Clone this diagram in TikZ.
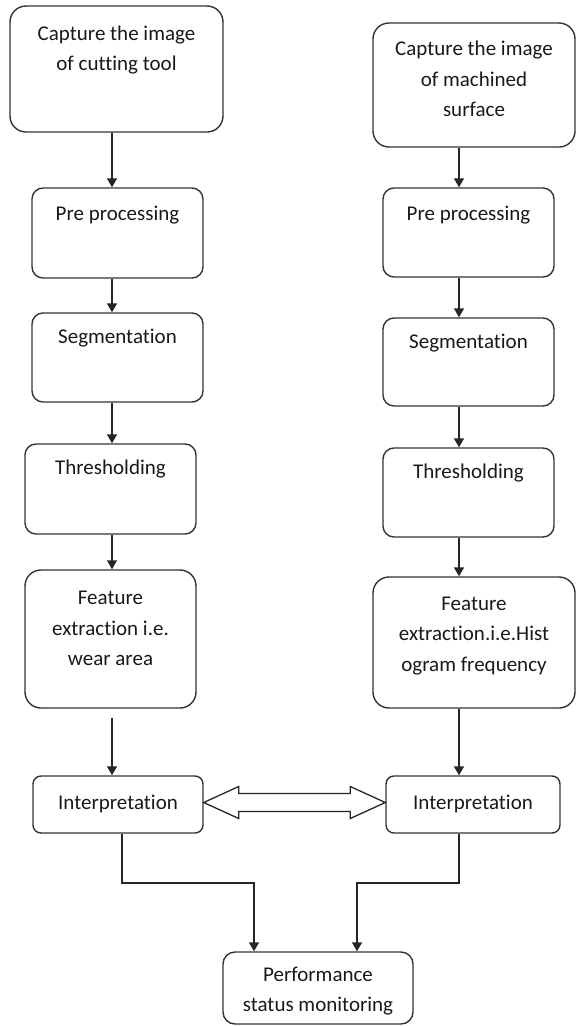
\documentclass[tikz,border=0pt]{standalone}
\usepackage{fontspec}
\setmainfont{Carlito}[Ligatures={NoCommon,NoContextual},Contextuals={NoAlternate}]
\usetikzlibrary{arrows.meta,calc}
\begin{document}
\begin{tikzpicture}[x=1pt,y=-1pt,
  box/.style={draw=black!80,line width=1.4pt,rounded corners=11pt,inner sep=0pt},
  bigbox/.style={box,rounded corners=16pt},
  txt/.style={align=center,inner sep=0pt,text=black!90,font=\fontsize{21}{30.5}\selectfont},
  arr/.style={draw=black!85,line width=1.4pt,-{Triangle[length=9pt,width=10pt]}},
  dbl/.style={draw=black!85,line width=1.3pt,fill=white,line join=miter}]
\useasboundingbox (0,0) rectangle (576,1026);
% left column
\node[bigbox,minimum width=213pt,minimum height=126pt] (l1) at (116.5,69) {};
\node[txt] (l1t) at (116.5,50) {Capture the image\\of cutting tool};
\node[box,minimum width=171pt,minimum height=90pt] (l2) at (117.5,233) {};
\node[txt] (l2t) at (117.5,215) {Pre processing};
\node[box,minimum width=171pt,minimum height=89pt] (l3) at (117.5,357.5) {};
\node[txt] (l3t) at (117.5,338) {Segmentation};
\node[box,minimum width=171pt,minimum height=90pt] (l4) at (110.5,489) {};
\node[txt] (l4t) at (110.5,469) {Thresholding};
\node[bigbox,minimum width=171pt,minimum height=138pt] (l5) at (110.5,639) {};
\node[txt] (l5t) at (110.5,628.5) {Feature\\extraction i.e.\\wear area};
\node[box,rounded corners=8pt,minimum width=170pt,minimum height=57pt] (li) at (118,804.5) {};
\node[txt] (lit) at (118,804) {Interpretation};
% right column
\node[bigbox,minimum width=202pt,minimum height=124pt] (r1) at (474,85) {};
\node[txt] (r1t) at (474,79) {Capture the image\\of machined\\surface};
\node[box,minimum width=171pt,minimum height=89pt] (r2) at (468.5,232.5) {};
\node[txt] (r2t) at (468.5,215) {Pre processing};
\node[box,minimum width=171pt,minimum height=88pt] (r3) at (468.5,362) {};
\node[txt] (r3t) at (468.5,343) {Segmentation};
\node[box,minimum width=171pt,minimum height=89pt] (r4) at (468.5,492.5) {};
\node[txt] (r4t) at (468.5,473) {Thresholding};
\node[bigbox,minimum width=202pt,minimum height=131pt] (r5) at (474,642.5) {};
\node[txt] (r5t) at (474,636) {Feature\\extraction.i.e.Hist\\ogram frequency};
\node[box,rounded corners=8pt,minimum width=174pt,minimum height=57pt] (ri) at (473,804.5) {};
\node[txt] (rit) at (473,804) {Interpretation};
% final
\node[box,rounded corners=12pt,minimum width=190pt,minimum height=72pt] (f) at (318,988) {};
\node[txt] (ft) at (318,991) {Performance\\status monitoring};
% helper coordinates
\coordinate (ax) at (112,0);
\coordinate (bx) at (459,0);
\coordinate (lx) at (122,0);
\coordinate (jl) at (254,883);
\coordinate (jr) at (357,883);
% left arrows
\draw[arr] (l1.south -| ax) -- (l2.north -| ax);
\draw[arr] (l2.south -| ax) -- (l3.north -| ax);
\draw[arr] (l3.south -| ax) -- (l4.north -| ax);
\draw[arr] (l4.south -| ax) -- (l5.north -| ax);
\draw[arr] ([yshift=-9pt]l5.south -| ax) -- (li.north -| ax);
% right arrows
\draw[arr] (r1.south -| bx) -- (r2.north -| bx);
\draw[arr] (r2.south -| bx) -- (r3.north -| bx);
\draw[arr] (r3.south -| bx) -- (r4.north -| bx);
\draw[arr] (r4.south -| bx) -- (r5.north -| bx);
\draw[arr] (r5.south -| bx) -- (ri.north -| bx);
% to final
\draw[arr,rounded corners=0pt] (li.south -| lx) |- (jl) -- (f.north -| jl);
\draw[arr,rounded corners=0pt] (ri.south -| bx) |- (jr) -- (f.north -| jr);
% double hollow arrow
\draw[dbl] ([yshift=2pt]li.east) -- ++(35,-16) -- ++(0,7) -- ($([yshift=2pt]ri.west)+(-35,-9)$) -- ++(0,-7)
  -- ([yshift=2pt]ri.west) -- ++(-35,16) -- ++(0,-7) -- ($([yshift=2pt]li.east)+(35,9)$) -- ++(0,7) -- cycle;
\end{tikzpicture}
\end{document}
